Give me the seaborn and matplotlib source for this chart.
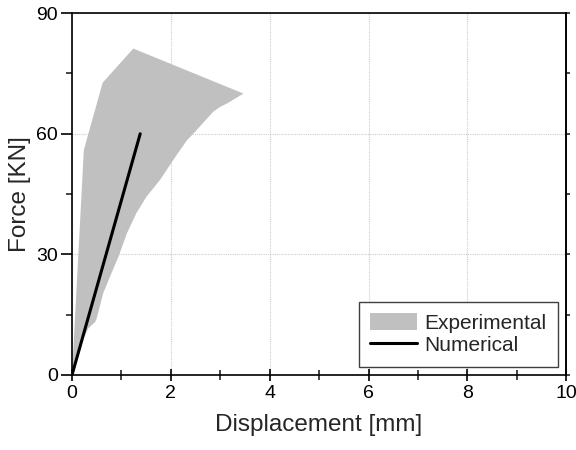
import numpy as np
import pandas as pd
import matplotlib
matplotlib.use("Agg")
import matplotlib.pyplot as plt
from matplotlib.patches import Patch
from matplotlib.lines import Line2D
from matplotlib.ticker import MultipleLocator
import seaborn as sns

# Experimental envelope: upper boundary (from origin) and lower boundary (from peak back to origin)
upper_disp = [0.0, 0.24, 0.62, 1.24, 3.47]
upper_force = [0.0, 56.0, 72.7, 81.2, 70.0]
lower_disp = [3.47, 3.13, 3.00, 2.86, 2.66, 2.46, 2.32, 2.19, 2.05, 1.78, 1.51,
              1.30, 1.11, 0.94, 0.77, 0.63, 0.50, 0.47, 0.33, 0.16, 0.0]
lower_force = [70.0, 67.5, 66.7, 65.5, 62.8, 60.1, 58.3, 56.0, 53.5, 48.5, 44.4,
               40.2, 35.2, 29.4, 24.5, 20.3, 14.1, 13.2, 11.6, 7.0, 0.0]

# Numerical result
num_disp = [0.0, 1.38]
num_force = [0.0, 60.0]

x_ticks = [0, 2, 4, 6, 8, 10]
y_ticks = [0, 30, 60, 90]

sns.set_style("ticks")
plt.rcParams['font.family'] = ['Liberation Sans', 'DejaVu Sans']

fig = plt.figure(figsize=(5.76, 4.5), dpi=100)
ax = fig.add_axes([0.125, 0.1667, 0.858, 0.804])

poly_x = list(upper_disp) + list(lower_disp)
poly_y = list(upper_force) + list(lower_force)
ax.fill(poly_x, poly_y, color="#c0c0c0", linewidth=0, zorder=2)

df = pd.DataFrame({"disp": num_disp, "force": num_force})
sns.lineplot(data=df, x="disp", y="force", ax=ax, color="black", linewidth=2.2,
             zorder=3, legend=False)

ax.set_xlim(0, 10)
ax.set_ylim(0, 90)
ax.set_xticks(x_ticks)
ax.set_yticks(y_ticks)
ax.set_xticklabels([str(t) for t in x_ticks])
ax.set_yticklabels([str(t) for t in y_ticks])
ax.xaxis.set_minor_locator(MultipleLocator(1))
ax.yaxis.set_minor_locator(MultipleLocator(15))

ax.grid(True, which="major", color="#cccccc", linestyle=(0, (1, 1)), linewidth=0.8, zorder=0)
ax.set_axisbelow(True)

for s in ax.spines.values():
    s.set_visible(True)
    s.set_color("black")
    s.set_linewidth(1.2)

ax.tick_params(axis="x", which="major", direction="inout", length=8, width=1.2,
               labelsize=14, pad=3, top=False, colors="black")
ax.tick_params(axis="x", which="minor", direction="inout", length=7, width=1.2, top=False)
ax.tick_params(axis="y", which="major", direction="out", length=8, width=1.2,
               labelsize=14, pad=2, right=False, colors="black")
ax.tick_params(axis="y", which="minor", direction="out", length=4, width=1.2, right=False)

# short outward ticks on the right side
sec = ax.secondary_yaxis("right")
sec.set_yticks(y_ticks)
sec.yaxis.set_minor_locator(MultipleLocator(15))
sec.tick_params(axis="y", which="both", direction="out", length=3, width=1.2,
                labelright=False)
sec.spines["right"].set_linewidth(1.2)
sec.spines["right"].set_color("black")

ax.set_xlabel("Displacement [mm]", fontsize=17.5, labelpad=9)
ax.set_ylabel("Force [KN]", fontsize=17.5, labelpad=4)

handles = [Patch(facecolor="#c0c0c0", edgecolor="none"),
           Line2D([0], [0], color="black", linewidth=2.2)]
leg = ax.legend(handles, ["Experimental", "Numerical"], loc="lower right",
                fontsize=15, frameon=True, fancybox=False, edgecolor="#404040",
                framealpha=1, handlelength=2.25, handleheight=0.87, handletextpad=0.35,
                borderpad=0.55, labelspacing=0.12, borderaxespad=0.4)
leg.get_frame().set_linewidth(1.0)

fig.savefig("out.png", dpi=100)
